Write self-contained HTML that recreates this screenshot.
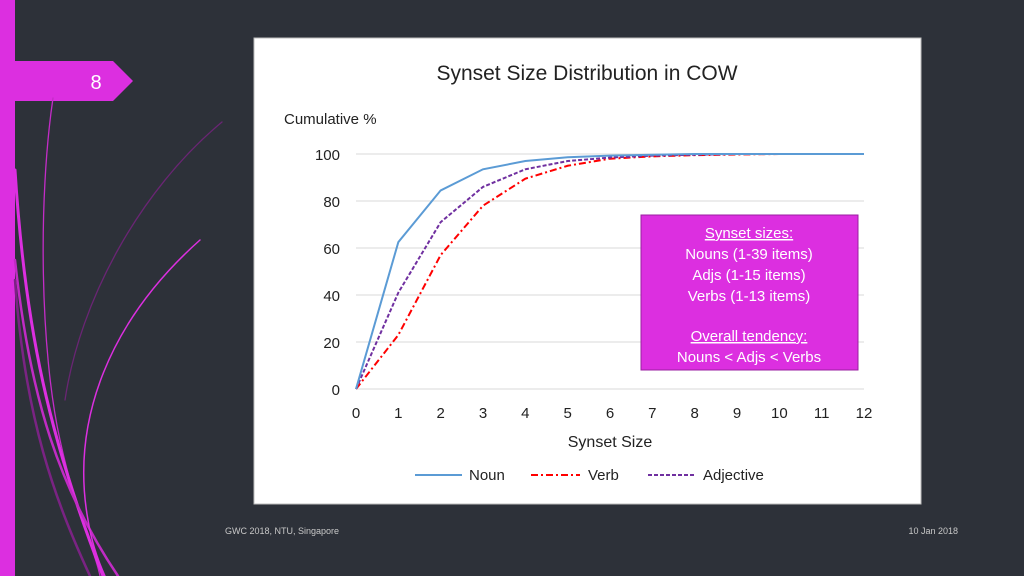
<!DOCTYPE html>
<html><head><meta charset="utf-8"><style>
body{margin:0;width:1024px;height:576px;background:#2d3139;overflow:hidden;position:relative;font-family:"Liberation Sans",sans-serif}
</style></head><body>
<svg width="1024" height="576" style="position:absolute;left:0;top:0">
<rect x="0" y="0" width="15" height="576" fill="#dc2fe0"/>
<polygon points="15,61 113,61 133,81 113,101 15,101" fill="#dc2fe0"/>
<text x="96" y="89" fill="#fff" font-size="20" text-anchor="middle">8</text>
<g fill="none" stroke-linecap="round">
<path d="M53,98 C38,200 40,350 60,440 C75,510 95,550 100,576" stroke="#c42cc8" stroke-width="1.3"/>
<path d="M15,170 C25,330 50,440 103,576" stroke="#dc2fe0" stroke-width="3"/>
<path d="M15,260 C30,400 60,490 118,576" stroke="#c02bc4" stroke-width="2.5"/>
<path d="M15,280 C25,420 55,500 90,576" stroke="#7a2383" stroke-width="2.5"/>
<path d="M200,240 C110,320 70,420 88,520 C92,545 100,565 105,576" stroke="#dc2fe0" stroke-width="1.5"/>
<path d="M222,122 C140,190 80,300 65,400" stroke="#6a2574" stroke-width="1.3"/>
</g>
<text x="225" y="534" fill="#c8c8c8" font-size="9">GWC 2018, NTU, Singapore</text>
<text x="958" y="534" fill="#c8c8c8" font-size="9" text-anchor="end">10 Jan 2018</text>
</svg>
<svg id="chart" width="1024" height="576" style="position:absolute;left:0;top:0">
<rect x="254" y="38" width="667" height="466" fill="#fff" stroke="#bdbdbd"/>
<text x="587" y="80" font-size="21" text-anchor="middle" fill="#222">Synset Size Distribution in COW</text>
<text x="284" y="124" font-size="15" fill="#222">Cumulative %</text>
<text x="610" y="447" font-size="16" text-anchor="middle" fill="#222">Synset Size</text>
<g id="grid"></g><g id="series"></g>
<rect x="641" y="215" width="217" height="155" fill="#dc2fe0" stroke="#9a1fa0"/>
<g font-size="15" fill="#fff" text-anchor="middle">
<text x="749" y="238" text-decoration="underline">Synset sizes:</text>
<text x="749" y="259">Nouns (1-39 items)</text>
<text x="749" y="280">Adjs (1-15 items)</text>
<text x="749" y="301">Verbs (1-13 items)</text>
<text x="749" y="341" text-decoration="underline">Overall tendency:</text>
<text x="749" y="362">Nouns &lt; Adjs &lt; Verbs</text>
</g>
<g font-size="15" fill="#222">
<line x1="415" y1="475" x2="462" y2="475" stroke="#5b9bd5" stroke-width="2"/><text x="469" y="480">Noun</text>
<line x1="531" y1="475" x2="580" y2="475" stroke="#ff0000" stroke-width="2" stroke-dasharray="7,3,2,3"/><text x="588" y="480">Verb</text>
<line x1="648" y1="475" x2="696" y2="475" stroke="#7030a0" stroke-width="2" stroke-dasharray="4,2"/><text x="703" y="480">Adjective</text>
</g>
</svg>
<script>
const xTicks=[0,1,2,3,4,5,6,7,8,9,10,11,12];
const yTicks=[0,20,40,60,80,100];
const nounVals=[0,62.5,84.5,93.5,97,98.6,99.3,99.7,100,100,100,100,100];
const verbVals=[0,23,57,78,89.5,95,98,99,99.5,99.8,100,100,100];
const adjVals=[0,41,71,86,93.5,97,98.5,99.3,99.7,100,100,100,100];
const NS="http://www.w3.org/2000/svg";
const X=v=>356+v*(864-356)/12, Y=v=>389-v*(389-154)/100;
const grid=document.getElementById('grid'), ser=document.getElementById('series');
yTicks.forEach(t=>{
 const l=document.createElementNS(NS,'line');
 
 
 l.setAttribute('x1',356);l.setAttribute('x2',864);l.setAttribute('y1',Y(t));l.setAttribute('y2',Y(t));
 l.setAttribute('stroke','#d9d9d9');grid.appendChild(l);
 const tx=document.createElementNS(NS,'text');
 
 
 tx.setAttribute('x',340);tx.setAttribute('y',Y(t)+6);tx.setAttribute('text-anchor','end');tx.setAttribute('font-size','15');tx.setAttribute('fill','#222');
 tx.textContent=t;grid.appendChild(tx);
});
xTicks.forEach(t=>{
 const tx=document.createElementNS(NS,'text');
 
 
 tx.setAttribute('x',X(t));tx.setAttribute('y',418);tx.setAttribute('text-anchor','middle');tx.setAttribute('font-size','15');tx.setAttribute('fill','#222');
 tx.textContent=t;grid.appendChild(tx);
});
function line(vals,color,dash,name){
 const p=document.createElementNS(NS,'polyline');
 
 
 p.setAttribute('points',vals.map((v,i)=>X(xTicks[i])+','+Y(v)).join(' '));
 p.setAttribute('fill','none');p.setAttribute('stroke',color);p.setAttribute('stroke-width','2');
 if(dash)p.setAttribute('stroke-dasharray',dash);
 ser.appendChild(p);
}
line(verbVals,'#ff0000','7,3,2,3','verb-line');
line(adjVals,'#7030a0','4,2','adjective-line');
line(nounVals,'#5b9bd5','','noun-line');
</script>
</body></html>
